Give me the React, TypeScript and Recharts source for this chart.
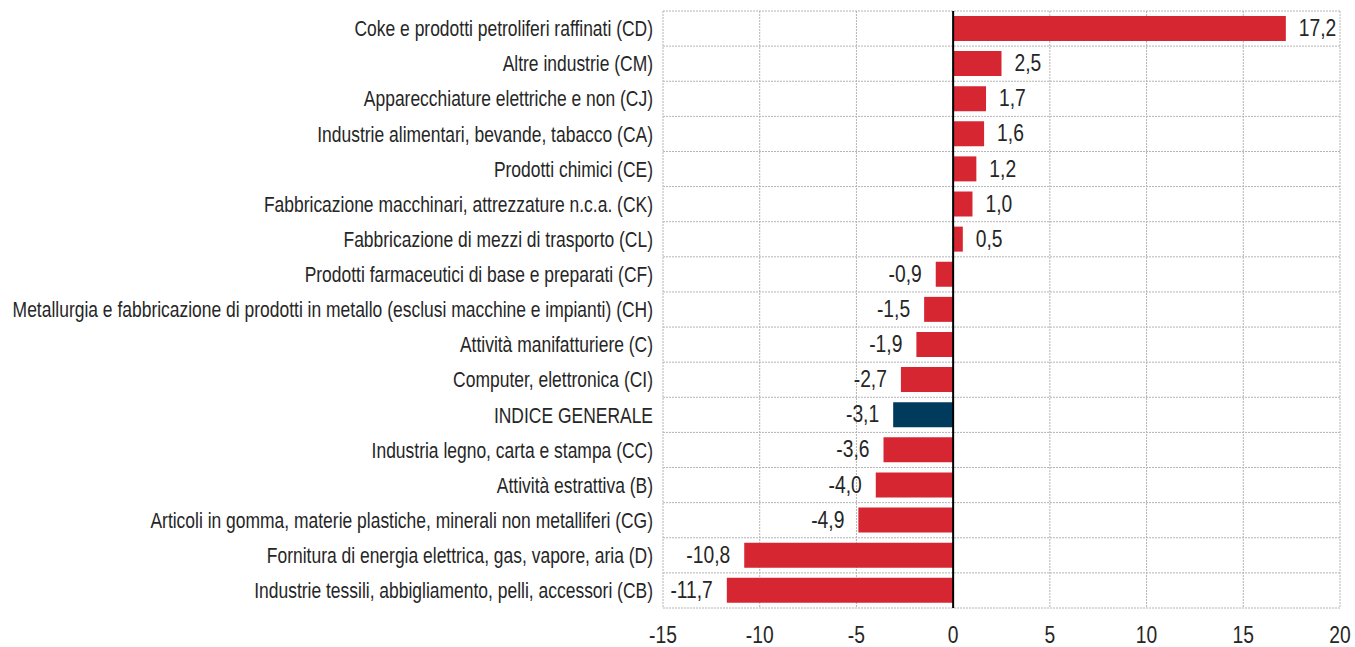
import {
  BarChart,
  Bar,
  XAxis,
  YAxis,
  CartesianGrid,
  ReferenceLine,
  LabelList,
  Cell,
} from 'recharts'

const categories = [
  'Coke e prodotti petroliferi raffinati (CD)',
  'Altre industrie (CM)',
  'Apparecchiature elettriche e non (CJ)',
  'Industrie alimentari, bevande, tabacco (CA)',
  'Prodotti chimici (CE)',
  'Fabbricazione macchinari, attrezzature n.c.a. (CK)',
  'Fabbricazione di mezzi di trasporto (CL)',
  'Prodotti farmaceutici di base e preparati (CF)',
  'Metallurgia e fabbricazione di prodotti in metallo (esclusi macchine e impianti) (CH)',
  'Attività manifatturiere (C)',
  'Computer, elettronica (CI)',
  'INDICE GENERALE',
  'Industria legno, carta e stampa (CC)',
  'Attività estrattiva (B)',
  'Articoli in gomma, materie plastiche, minerali non metalliferi (CG)',
  'Fornitura di energia elettrica, gas, vapore, aria (D)',
  'Industrie tessili, abbigliamento, pelli, accessori (CB)',
]

const values = [17.2, 2.5, 1.7, 1.6, 1.2, 1.0, 0.5, -0.9, -1.5, -1.9, -2.7, -3.1, -3.6, -4.0, -4.9, -10.8, -11.7]

const xTicks = [-15, -10, -5, 0, 5, 10, 15, 20]

const highlight = 'INDICE GENERALE'

const data = categories.map((name, i) => ({ name, value: values[i] }))

// no Arial Narrow here, so squeeze Liberation Sans sideways
const FONT = '"Liberation Sans", Arial, sans-serif'
const NARROW = 0.82
const RED = '#d62631'
const NAVY = '#003a5c'
const TEXT = '#262626'

const formatValue = (v: number) => v.toFixed(1).replace('.', ',')

function NarrowText({ x, y, anchor, size, children }: any) {
  return (
    <g transform={`translate(${x},${y})`}>
      <text
        transform={`scale(${NARROW},1)`}
        textAnchor={anchor}
        dominantBaseline="central"
        fontSize={size}
        fontFamily={FONT}
        fill={TEXT}
      >
        {children}
      </text>
    </g>
  )
}

function CategoryTick({ x, y, payload }: any) {
  return (
    <NarrowText x={x} y={y} anchor="end" size={21.3}>
      {payload.value}
    </NarrowText>
  )
}

function NumberTick({ x, y, payload }: any) {
  return (
    <NarrowText x={x} y={y + 27} anchor="middle" size={23.5}>
      {payload.value}
    </NarrowText>
  )
}

function ValueLabel(props: any) {
  const { x, y, width, height, value } = props
  const left = Math.min(x, x + width)
  const right = Math.max(x, x + width)
  const pos = value >= 0
  return (
    <NarrowText x={pos ? right + 13 : left - 14} y={y + height / 2} anchor={pos ? 'start' : 'end'} size={23.5}>
      {formatValue(value)}
    </NarrowText>
  )
}

export default function App() {
  const rowBounds = ({ offset }: any) => {
    const h = offset.height / categories.length
    return categories.map((_, i) => offset.top + i * h).concat(offset.top + offset.height)
  }

  return (
    <div style={{ position: 'absolute', left: 0, top: 0, width: 1355, height: 647, background: '#fff' }}>
      <BarChart
        width={1355}
        height={647}
        data={data}
        layout="vertical"
        margin={{ top: 11, right: 15, left: 0, bottom: 0 }}
        barCategoryGap="14%"
      >
        <CartesianGrid
          stroke="#b4b4b4"
          strokeDasharray="2 1"
          horizontalCoordinatesGenerator={rowBounds}
        />
        <XAxis
          type="number"
          domain={[-15, 20]}
          ticks={xTicks}
          height={39}
          axisLine={false}
          tickLine={false}
          tickSize={0}
          tickMargin={0}
          tick={<NumberTick />}
        />
        <YAxis
          type="category"
          dataKey="name"
          width={663}
          axisLine={false}
          tickLine={false}
          tickSize={0}
          tickMargin={10}
          interval={0}
          tick={<CategoryTick />}
        />
        <Bar dataKey="value" isAnimationActive={false}>
          {data.map((d) => (
            <Cell key={d.name} fill={d.name === highlight ? NAVY : RED} />
          ))}
          <LabelList dataKey="value" content={ValueLabel} />
        </Bar>
        <ReferenceLine x={0} stroke="#000" strokeWidth={2} />
      </BarChart>
    </div>
  )
}
